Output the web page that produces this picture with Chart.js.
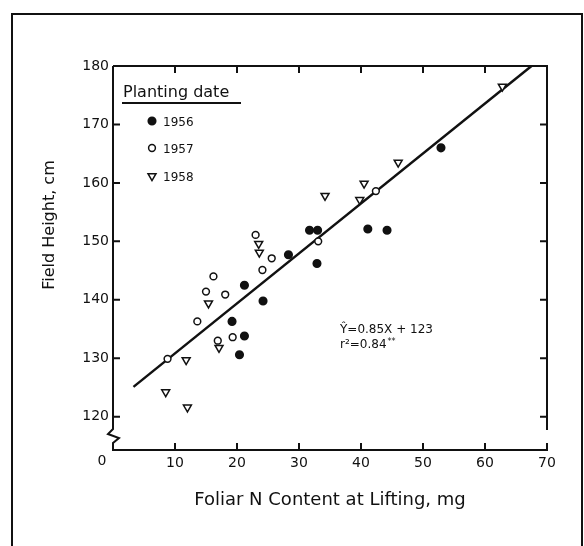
<!DOCTYPE html>
<html>
<head>
<meta charset="utf-8">
<script src="https://cdn.jsdelivr.net/npm/chart.js@4/dist/chart.umd.min.js"></script>
<style>
  html, body { margin: 0; background: #fff; }
  #wrap { width: 584px; height: 546px; position: relative; }
</style>
</head>
<body>
<div id="wrap"><canvas id="chart"></canvas></div>
<script>
// values (foliar N in mg, field height in cm)
const x1956 = [19.2, 20.4, 21.2, 21.2, 24.2, 28.3, 31.7, 32.9, 33.0, 41.1, 44.2, 52.9];
const y1956 = [136.3, 130.6, 142.5, 133.8, 139.8, 147.7, 151.9, 146.2, 151.9, 152.1, 151.9, 166.0];

const x1957 = [8.8, 13.6, 15.0, 16.2, 16.9, 18.1, 19.3, 23.0, 24.1, 25.6, 33.1, 42.4];
const y1957 = [129.9, 136.3, 141.4, 144.0, 133.0, 140.9, 133.6, 151.1, 145.1, 147.1, 150.0, 158.6];

const x1958 = [8.5, 11.8, 12.0, 15.4, 17.1, 23.5, 23.6, 34.2, 39.8, 40.5, 46.0, 62.8];
const y1958 = [124.2, 129.7, 121.6, 139.4, 131.8, 149.6, 148.1, 157.8, 157.1, 159.9, 163.5, 176.5];

// fitted line end points as drawn
const fitX = [3.3, 67.5];
const fitY = [125.1, 180.0];

const xTicks = [0, 10, 20, 30, 40, 50, 60, 70];
const yTicks = [120, 130, 140, 150, 160, 170, 180];

const ink = "#111";
const pts = (xs, ys) => xs.map((v, i) => ({ x: v, y: ys[i] }));

const series = [
  { label: "1956", style: "circle", fill: ink, rot: 0, r: 3.8, data: pts(x1956, y1956) },
  { label: "1957", style: "circle", fill: "#fff", rot: 0, r: 3.4, data: pts(x1957, y1957) },
  { label: "1958", style: "triangle", fill: "#fff", rot: 180, r: 4.6, data: pts(x1958, y1958) },
];

Chart.defaults.font.family = "'DejaVu Sans', sans-serif";
Chart.defaults.color = ink;

const decor = {
  id: "decor",
  afterDraw(chart) {
    const { ctx, chartArea: a, scales } = chart;
    const sx = scales.x, sy = scales.y;
    ctx.save();
    ctx.strokeStyle = ink;
    ctx.fillStyle = ink;
    ctx.lineWidth = 2;

    // outer frame of the figure
    ctx.strokeRect(12, 14, 570, 600);

    // axes with the break on the y axis
    ctx.beginPath();
    ctx.moveTo(a.left, a.top);
    ctx.lineTo(a.left, 429);
    ctx.lineTo(a.left - 5, 434);
    ctx.lineTo(a.left + 6, 438);
    ctx.lineTo(a.left, 443);
    ctx.lineTo(a.left, a.bottom);
    ctx.lineTo(a.right, a.bottom);
    ctx.lineTo(a.right, a.bottom - 7);
    ctx.moveTo(a.left, a.top);
    ctx.lineTo(a.right, a.top);
    ctx.lineTo(a.right, 430);
    ctx.stroke();

    // inward ticks
    const tl = 7;
    ctx.beginPath();
    xTicks.slice(1, -1).forEach((v) => {
      const px = sx.getPixelForValue(v);
      ctx.moveTo(px, a.bottom); ctx.lineTo(px, a.bottom - tl);
      ctx.moveTo(px, a.top); ctx.lineTo(px, a.top + tl);
    });
    yTicks.slice(0, -1).forEach((v) => {
      const py = sy.getPixelForValue(v);
      ctx.moveTo(a.left, py); ctx.lineTo(a.left + tl, py);
      ctx.moveTo(a.right, py); ctx.lineTo(a.right - tl, py);
    });
    ctx.stroke();

    // corner zero
    ctx.font = "14px 'DejaVu Sans'";
    ctx.textAlign = "center";
    ctx.textBaseline = "middle";
    ctx.fillText("0", 102, 461);

    // axis titles
    ctx.font = "18px 'DejaVu Sans'";
    ctx.fillText("Foliar N Content at Lifting, mg", (a.left + a.right) / 2, 500);
    ctx.save();
    ctx.translate(50, 225);
    ctx.rotate(-Math.PI / 2);
    ctx.font = "16px 'DejaVu Sans'";
    ctx.fillText("Field Height, cm", 0, 0);
    ctx.restore();

    // legend
    ctx.textAlign = "left";
    ctx.textBaseline = "alphabetic";
    ctx.font = "16px 'DejaVu Sans'";
    ctx.fillText("Planting date", 123, 97);
    ctx.beginPath();
    ctx.moveTo(122, 103); ctx.lineTo(241, 103);
    ctx.stroke();
    ctx.font = "12px 'DejaVu Sans'";
    const rows = [121, 148, 176];
    series.forEach((s, i) => {
      ctx.lineWidth = 1.5;
      ctx.fillStyle = s.fill;
      Chart.helpers.drawPoint(ctx, { pointStyle: s.style, radius: s.r, rotation: s.rot, borderWidth: 1.5 }, 152, rows[i]);
      ctx.fillStyle = ink;
      ctx.fillText(s.label, 163, rows[i] + 4.5);
    });

    // equation
    ctx.font = "12px 'DejaVu Sans'";
    ctx.fillText("\u0176=0.85X + 123", 340, 333);
    ctx.fillText("r\u00B2=0.84", 340, 348);
    const w = ctx.measureText("r\u00B2=0.84").width;
    ctx.font = "8px 'DejaVu Sans'";
    ctx.fillText("**", 341 + w, 344);
    ctx.restore();
  },
};

new Chart(document.getElementById("chart"), {
  type: "scatter",
  data: {
    datasets: [
      ...series.map((s) => ({
        label: s.label,
        data: s.data,
        pointStyle: s.style,
        pointRotation: s.rot,
        pointRadius: s.r,
        pointHoverRadius: s.r,
        backgroundColor: s.fill,
        borderColor: ink,
        borderWidth: 1.5,
      })),
      {
        type: "line",
        label: "fit",
        data: pts(fitX, fitY),
        borderColor: ink,
        borderWidth: 2.5,
        pointRadius: 0,
        fill: false,
      },
    ],
  },
  options: {
    responsive: true,
    maintainAspectRatio: false,
    animation: false,
    events: [],
    layout: { padding: { top: 66, right: 37, left: 0, bottom: 0 } },
    plugins: { legend: { display: false }, tooltip: { enabled: false } },
    scales: {
      x: {
        type: "linear",
        min: 0,
        max: 70,
        afterBuildTicks: (s) => { s.ticks = xTicks.map((v) => ({ value: v })); },
        afterFit: (s) => { s.height = 96; },
        grid: { display: false, drawTicks: false },
        border: { display: false },
        ticks: { padding: 5, font: { size: 14 }, callback: (v) => (v === 0 ? "" : v) },
      },
      y: {
        min: 114.3,
        max: 180,
        afterBuildTicks: (s) => { s.ticks = yTicks.map((v) => ({ value: v })); },
        afterFit: (s) => { s.width = 113; },
        grid: { display: false, drawTicks: false },
        border: { display: false },
        ticks: { padding: 4, font: { size: 14 } },
      },
    },
  },
  plugins: [decor],
});
</script>
</body>
</html>
